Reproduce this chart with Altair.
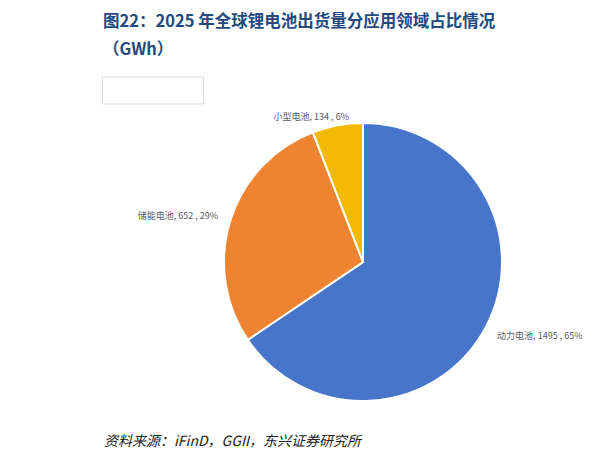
import altair as alt
import pandas as pd

categories = ["动力电池", "储能电池", "小型电池"]
values = [1495, 652, 134]
percent_labels = ["65%", "29%", "6%"]
colors = ["#4775CA", "#EE8431", "#F2BA02"]

df = pd.DataFrame({
    "category": categories,
    "value": values,
    "pct": percent_labels,
    "order": list(range(len(categories))),
})
df["label"] = [f"{c}, {v} , {p}" for c, v, p in zip(categories, values, percent_labels)]

W, H = 595, 444
CX, CY, R = 355, 254, 139

base = alt.Chart(df)

pie = base.mark_arc(stroke="white", strokeWidth=2, outerRadius=R).encode(
    theta=alt.Theta("value:Q", stack=True),
    color=alt.Color("category:N", scale=alt.Scale(domain=categories, range=colors), legend=None),
    order=alt.Order("order:Q"),
    x=alt.value(CX),
    y=alt.value(CY),
)

label_style = {
    "动力电池": dict(align="left", dx=-1, dy=2),
    "储能电池": dict(align="right", dx=1, dy=0),
    "小型电池": dict(align="right", dx=14, dy=5),
}

label_layers = []
for cat in categories:
    st = label_style[cat]
    label_layers.append(
        base.mark_text(
            font="Noto Sans CJK SC", fontSize=9, color="#595959",
            baseline="middle", align=st["align"], dx=st["dx"], dy=st["dy"],
        ).encode(
            theta=alt.Theta("value:Q", stack=True),
            order=alt.Order("order:Q"),
            radius=alt.value(153),
            x=alt.value(CX),
            y=alt.value(CY),
            text=alt.condition(alt.datum.category == cat, "label:N", alt.value("")),
        )
    )

title_color = "#23497E"
title1 = alt.Chart(pd.DataFrame({"t": ["图22：2025 年全球锂电池出货量分应用领域占比情况"]})).mark_text(
    font="Noto Sans CJK SC", fontSize=16.5, fontWeight="bold", color=title_color,
    align="left", baseline="alphabetic",
).encode(text="t:N", x=alt.value(95), y=alt.value(19))

title2 = alt.Chart(pd.DataFrame({"t": ["（GWh）"]})).mark_text(
    font="Noto Sans CJK SC", fontSize=16.5, fontWeight="bold", color=title_color,
    align="left", baseline="alphabetic",
).encode(text="t:N", x=alt.value(95), y=alt.value(47))

box = alt.Chart(pd.DataFrame({"a": [0]})).mark_rect(
    fill="white", stroke="#D9D9D9", strokeWidth=1
).encode(x=alt.value(94.5), x2=alt.value(195.5), y=alt.value(69), y2=alt.value(96))

footer = alt.Chart(pd.DataFrame({"t": ["资料来源：iFinD，GGII，东兴证券研究所"]})).mark_text(
    font="Noto Sans CJK SC", fontSize=14, fontStyle="italic", color="#222222",
    align="left", baseline="alphabetic",
).encode(text="t:N", x=alt.value(96), y=alt.value(438))

chart = alt.layer(pie, *label_layers, title1, title2, box, footer).properties(
    width=W, height=H,
    autosize=alt.AutoSizeParams(type="none"),
    padding=0,
    background="white",
).configure_view(stroke=None)

chart.save("out.html", embed_options={"renderer": "svg", "actions": False})
